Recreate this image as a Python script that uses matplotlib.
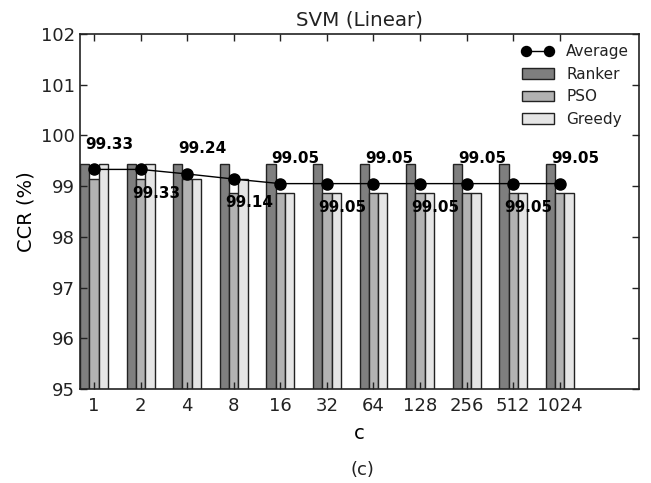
import matplotlib
matplotlib.use("Agg")
import matplotlib.pyplot as plt
import numpy as np

c_labels = ["1", "2", "4", "8", "16", "32", "64", "128", "256", "512", "1024"]
ranker = [99.43, 99.43, 99.43, 99.43, 99.43, 99.43, 99.43, 99.43, 99.43, 99.43, 99.43]
pso = [99.14, 99.14, 99.14, 98.86, 98.86, 98.86, 98.86, 98.86, 98.86, 98.86, 98.86]
greedy = [99.43, 99.43, 99.14, 99.14, 98.86, 98.86, 98.86, 98.86, 98.86, 98.86, 98.86]
average = [99.33, 99.33, 99.24, 99.14, 99.05, 99.05, 99.05, 99.05, 99.05, 99.05, 99.05]

plt.rcParams['font.family'] = 'DejaVu Sans'
plt.rcParams['text.color'] = '#222222'
plt.rcParams['xtick.color'] = '#222222'
plt.rcParams['ytick.color'] = '#222222'

fig = plt.figure(figsize=(6.51, 4.83), dpi=100)
ax = fig.add_axes([0.1229, 0.1946, 0.8587, 0.735])

ind = np.arange(len(c_labels))
width = 0.2
ax.bar(ind, ranker, width, align='edge', color='#7f7f7f', edgecolor='#222222', linewidth=1, label='Ranker')
ax.bar(ind + width, pso, width, align='edge', color='#b2b2b2', edgecolor='#222222', linewidth=1, label='PSO')
ax.bar(ind + 2 * width, greedy, width, align='edge', color='#e5e5e5', edgecolor='#222222', linewidth=1, label='Greedy')

ax.plot(ind + 0.3, average, color='black', linewidth=1, marker='o', markersize=8, label='Average')

# labels alternate above / below the line
for i, v in enumerate(average):
    if i % 2 == 0:
        ax.text(i + 0.63, v + 0.5, f"{v:.2f}", ha='center', va='center', fontsize=11, fontweight='bold', color='black')
    else:
        ax.text(i + 0.63, v - 0.47, f"{v:.2f}", ha='center', va='center', fontsize=11, fontweight='bold', color='black')

ax.set_xlim(0, 12)
ax.set_ylim(95, 102)
ax.set_xticks(ind + 0.3)
ax.set_xticklabels(c_labels, fontsize=13)
ax.set_yticks(range(95, 103))
ax.tick_params(axis='y', labelsize=13)
ax.tick_params(direction='in', top=True, right=True, length=5, width=1)
ax.tick_params(axis='x', pad=6)
for s in ax.spines.values():
    s.set_linewidth(1.2)
    s.set_color('#222222')

ax.set_xlabel("c", fontsize=14, labelpad=6)
ax.set_ylabel("CCR (%)", fontsize=14)
ax.set_title("SVM (Linear)", fontsize=14.3)

ax.legend(loc='upper right', frameon=False, fontsize=11, handlelength=2.1, numpoints=2,
          borderaxespad=0.25, markerscale=0.9)

fig.text(0.557, 0.027, "(c)", ha='center', va='center', fontsize=13)

fig.savefig("out.png", dpi=100, facecolor='white')
